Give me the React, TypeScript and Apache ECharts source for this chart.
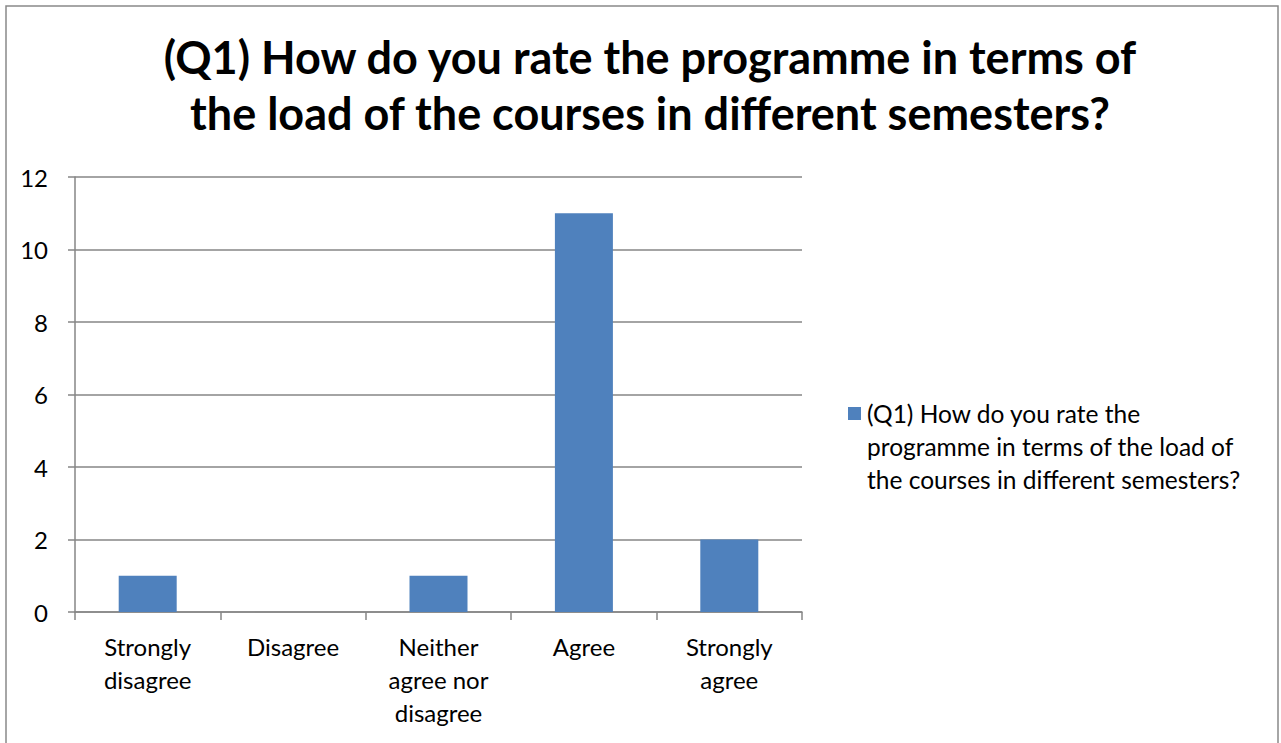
import React, { useEffect, useRef } from "react";
import * as echarts from "echarts";

const titleLines = [
  "(Q1) How do you rate the programme in terms of",
  "the load of the courses in different semesters?",
];
const categories = [
  "Strongly\ndisagree",
  "Disagree",
  "Neither\nagree nor\ndisagree",
  "Agree",
  "Strongly\nagree",
];
const values = [1, 0, 1, 11, 2];
const legendLines = [
  "(Q1) How do you rate the",
  "programme in terms of the load of",
  "the courses in different semesters?",
];

const FONT = "Lato, 'Open Sans', sans-serif";
const BAR_COLOR = "#4F81BD";

export default function App() {
  const ref = useRef<HTMLDivElement>(null);
  useEffect(() => {
    document.body.style.margin = "0";
    const chart = echarts.init(ref.current!, null, { renderer: "svg" });
    chart.setOption({
      animation: false,
      backgroundColor: "#ffffff",
      title: {
        text: titleLines.join("\n"),
        left: 645,
        textAlign: "center",
        top: 24,
        textStyle: {
          fontFamily: FONT,
          fontWeight: "bold",
          fontSize: 45,
          lineHeight: 56,
          color: "#000000",
        },
      },
      graphic: [
        {
          type: "rect",
          shape: { x: 6, y: 6, width: 1272, height: 800 },
          style: { fill: "none", stroke: "#898989", lineWidth: 1.5 },
          silent: true,
        },
        {
          type: "rect",
          shape: { x: 848, y: 407, width: 13, height: 13 },
          style: { fill: BAR_COLOR },
          silent: true,
        },
        {
          type: "text",
          x: 867,
          y: 397,
          style: {
            text: legendLines.join("\n"),
            fontFamily: FONT,
            fontSize: 24.5,
            lineHeight: 33,
            fill: "#000000",
            align: "left",
            verticalAlign: "top",
          },
          silent: true,
        },
      ],
      grid: { left: 75, right: 479, top: 177, bottom: 131, containLabel: false },
      xAxis: {
        type: "category",
        data: categories,
        axisLine: { show: true, lineStyle: { color: "#868686", width: 1.5 } },
        axisTick: { show: true, alignWithLabel: false, interval: 0, length: 8, lineStyle: { color: "#868686", width: 1.5 } },
        axisLabel: {
          interval: 0,
          margin: 18,
          fontFamily: FONT,
          fontSize: 24,
          lineHeight: 33,
          color: "#000000",
        },
      },
      yAxis: {
        type: "value",
        min: 0,
        max: 12,
        interval: 2,
        axisLine: { show: true, lineStyle: { color: "#868686", width: 1.5 } },
        axisTick: { show: true, length: 7, lineStyle: { color: "#868686", width: 1.5 } },
        splitLine: { show: true, lineStyle: { color: "#868686", width: 1.5 } },
        axisLabel: {
          margin: 27,
          fontFamily: FONT,
          fontSize: 24,
          color: "#000000",
        },
      },
      series: [
        {
          name: "(Q1) How do you rate the programme in terms of the load of the courses in different semesters?",
          type: "bar",
          data: values,
          barWidth: 58,
          itemStyle: { color: BAR_COLOR },
        },
      ],
    });
    return () => chart.dispose();
  }, []);
  return <div ref={ref} style={{ width: 1281, height: 743 }} />;
}
